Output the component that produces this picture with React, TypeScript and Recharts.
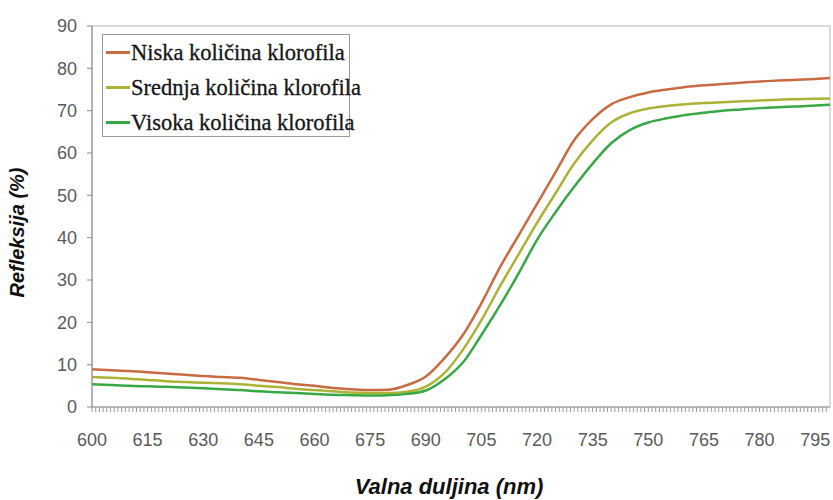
import React from "react";
import {
  LineChart,
  Line,
  XAxis,
  YAxis,
  Legend,
  Label,
  ReferenceArea,
} from "recharts";

// wavelength (nm)
const wavelengths = [
  600, 605, 610, 615, 620, 625, 630, 635, 640, 645, 650, 655, 660, 665, 670, 675, 680, 685, 690, 695,
  700, 705, 710, 715, 720, 725, 730, 735, 740, 745, 750, 755, 760, 765, 770, 775, 780, 785, 790, 795, 799,
];

const niska = [
  8.9, 8.7, 8.5, 8.2, 7.9, 7.6, 7.3, 7.1, 6.9, 6.4, 5.9, 5.4, 5.0, 4.5, 4.2, 4.0, 4.1, 5.2, 7.2, 11.5,
  17.0, 24.5, 33.0, 40.5, 48.0, 55.5, 63.0, 68.0, 71.5, 73.2, 74.3, 75.0, 75.6, 76.0, 76.3, 76.6, 76.9, 77.1, 77.3, 77.5, 77.7,
];

const srednja = [
  7.1, 6.9, 6.7, 6.4, 6.1, 5.9, 5.7, 5.6, 5.4, 5.0, 4.7, 4.3, 4.0, 3.7, 3.4, 3.3, 3.3, 3.6, 4.8, 8.0,
  13.5, 20.5, 28.5, 36.0, 43.5, 50.5, 57.5, 63.0, 67.2, 69.4, 70.5, 71.1, 71.5, 71.8, 72.0, 72.2, 72.4, 72.6, 72.7, 72.8, 72.9,
];

const visoka = [
  5.4, 5.2, 5.0, 4.9, 4.8, 4.6, 4.4, 4.2, 4.0, 3.7, 3.5, 3.3, 3.1, 2.9, 2.8, 2.7, 2.8, 3.1, 3.9, 6.5,
  10.5, 17.0, 24.0, 31.5, 39.5, 46.0, 52.0, 57.5, 62.3, 65.4, 67.2, 68.2, 69.0, 69.5, 70.0, 70.3, 70.6, 70.8, 71.0, 71.2, 71.4,
];

const xTickLabels = [600, 615, 630, 645, 660, 675, 690, 705, 720, 735, 750, 765, 780, 795];
const yTicks = [0, 10, 20, 30, 40, 50, 60, 70, 80, 90];
// one small tick mark per nm along the category axis
const xMinorTicks = Array.from({ length: 199 }, (_, i) => 600 + i);

const series = [
  { key: "niska", name: "Niska količina klorofila", color: "#c86a42" },
  { key: "srednja", name: "Srednja količina klorofila", color: "#adb236" },
  { key: "visoka", name: "Visoka količina klorofila", color: "#37a845" },
];

const data = wavelengths.map((nm, i) => ({
  nm,
  niska: niska[i],
  srednja: srednja[i],
  visoka: visoka[i],
}));

const sans = "'Liberation Sans', Arial, sans-serif";
const serif = "'Liberation Serif', 'Times New Roman', serif";

const XTick = (props: any) => {
  const { x, y, payload } = props;
  if (!xTickLabels.includes(payload.value)) return <g />;
  return (
    <text x={x} y={y} dy={13} textAnchor="middle" fill="#5a5a5a" fontSize={18} fontFamily={sans}>
      {payload.value}
    </text>
  );
};

const LegendBox = () => (
  <div
    style={{
      border: "1px solid #9a9a9a",
      background: "#fff",
      padding: "0 0 0 3px",
      width: 248,
      height: 103,
      boxSizing: "border-box",
      overflow: "visible",
    }}
  >
    {series.map((s) => (
      <div key={s.key} style={{ display: "flex", alignItems: "center", height: 35 }}>
        <div style={{ width: 24, height: 3, background: s.color, marginRight: 1, flex: "none" }} />
        <span
          style={{
            fontFamily: serif,
            fontSize: 22.5,
            color: "#151515",
            whiteSpace: "nowrap",
            WebkitTextStroke: "0.3px #151515",
          }}
        >
          {s.name}
        </span>
      </div>
    ))}
  </div>
);

export default function App() {
  return (
    <div style={{ position: "absolute", left: 0, top: 0, width: 833, height: 500, background: "#fff" }}>
      <LineChart width={833} height={500} data={data} margin={{ top: 26, right: 3, bottom: 0, left: 0 }}>
        <ReferenceArea x1={600} x2={799} y1={0} y2={90} fill="none" stroke="#cfcfcf" strokeWidth={1.5} />
        <XAxis
          dataKey="nm"
          type="number"
          domain={[600, 799]}
          ticks={xMinorTicks}
          interval={0}
          height={93}
          tickSize={5}
          tickMargin={21}
          tick={<XTick />}
          stroke="#9a9a9a"
          allowDataOverflow
        >
          <Label
            content={({ viewBox }: any) => (
              <text
                x={viewBox.x + viewBox.width / 2 - 12}
                y={viewBox.y + 87}
                textAnchor="middle"
                fontFamily={sans}
                fontSize={22}
                fontWeight="bold"
                fontStyle="italic"
                fill="#111"
              >
                Valna duljina (nm)
              </text>
            )}
          />
        </XAxis>
        <YAxis
          domain={[0, 90]}
          ticks={yTicks}
          interval={0}
          width={92}
          tickSize={5}
          tickMargin={10}
          stroke="#8a8a8a"
          tick={{ fill: "#5a5a5a", fontSize: 18, fontFamily: sans }}
        >
          <Label
            content={({ viewBox }: any) => (
              <text
                transform={`translate(${viewBox.x + 24}, ${viewBox.y + viewBox.height / 2 + 16}) rotate(-90)`}
                textAnchor="middle"
                fontFamily={sans}
                fontSize={20}
                fontWeight="bold"
                fontStyle="italic"
                fill="#111"
              >
                Refleksija (%)
              </text>
            )}
          />
        </YAxis>
        <Legend
          layout="vertical"
          align="center"
          verticalAlign="middle"
          content={<LegendBox />}
          wrapperStyle={{ left: 102, top: 34, width: 248 }}
        />
        {series.map((s) => (
          <Line
            key={s.key}
            type="monotone"
            dataKey={s.key}
            name={s.name}
            stroke={s.color}
            strokeWidth={2.5}
            dot={false}
            isAnimationActive={false}
          />
        ))}
      </LineChart>
    </div>
  );
}
